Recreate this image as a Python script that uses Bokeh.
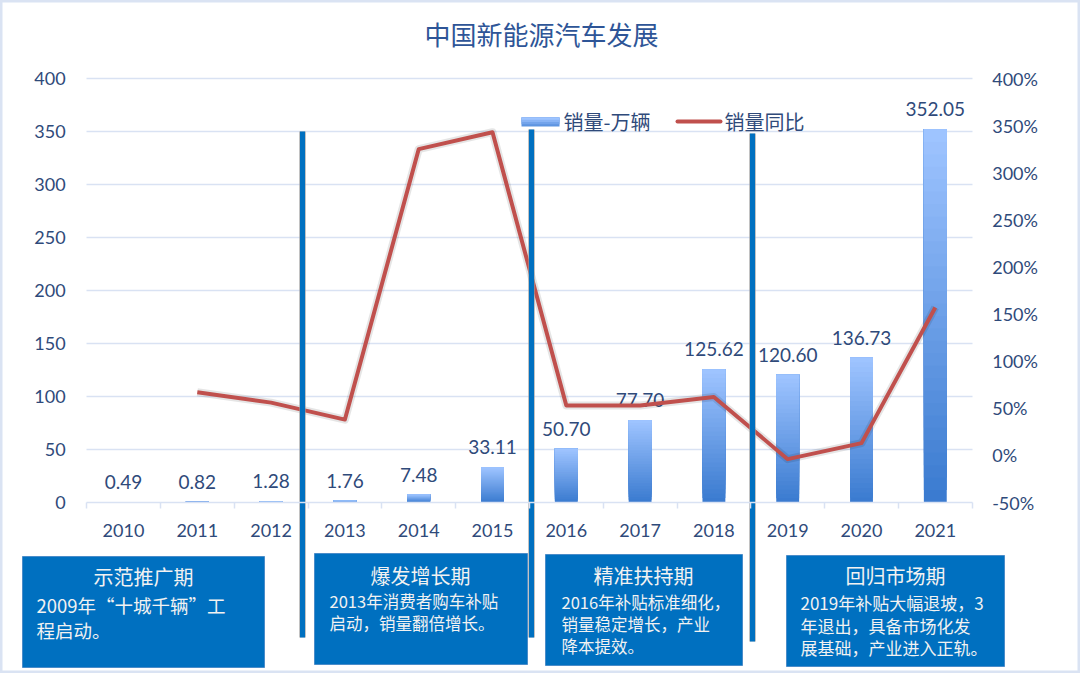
import numpy as np
from bokeh.plotting import figure
from bokeh.models import Range1d, LinearAxis, FixedTicker, PrintfTickFormatter, Grid
from bokeh.core.properties import value
from bokeh.embed import file_html
from bokeh.resources import INLINE

# ---------------- data ----------------
years = ["2010", "2011", "2012", "2013", "2014", "2015",
         "2016", "2017", "2018", "2019", "2020", "2021"]
sales = [0.49, 0.82, 1.28, 1.76, 7.48, 33.11, 50.70, 77.70, 125.62, 120.60, 136.73, 352.05]
yoy = [np.nan, 67, 56, 38, 325, 343, 53, 53, 62, -4, 13, 157]
sales_ticks = [0, 50, 100, 150, 200, 250, 300, 350, 400]
yoy_ticks = [-50, 0, 50, 100, 150, 200, 250, 300, 350, 400]
chart_title = "中国新能源汽车发展"
legend_labels = ["销量-万辆", "销量同比"]
phase_titles = ["示范推广期", "爆发增长期", "精准扶持期", "回归市场期"]
phase_texts = [
    ["2009年“十城千辆”工", "程启动。"],
    ["2013年消费者购车补贴", "启动，销量翻倍增长。"],
    ["2016年补贴标准细化，", "销量稳定增长，产业", "降本提效。"],
    ["2019年补贴大幅退坡，3", "年退出，具备市场化发", "展基础，产业进入正轨。"],
]

# ---------------- layout (reference pixel geometry) ----------------
W, H = 1080, 673
OFF = 0
X0, DX = 123.0, 73.8         # px of first category centre, px per category
Y0, SY = 502.0, 1.06         # px of value 0, px per unit (left axis)
PSY = 424.0 / 450.0          # px per percent (right axis)

def xd(px):
    return (px - X0) / DX

def yd(py):
    return (Y0 - py) / SY

def pdv(py):
    return -50 + (Y0 - py) / PSY

TXT = "#2f4a7a"
GRID = "#d9e2f3"
NUM_FONT = "Lato"
CJK = "Noto Sans CJK SC"

p = figure(width=W, height=H,
           x_range=Range1d(xd(OFF), xd(OFF + W)),
           y_range=Range1d(yd(OFF + H), yd(OFF)),
           x_axis_type=None, y_axis_type=None,
           toolbar_location=None, output_backend="svg",
           min_border=0, outline_line_color="#dae3f3", outline_line_width=4,
           background_fill_color="white", border_fill_color="white")
p.extra_y_ranges = {"pct": Range1d(pdv(OFF + H), pdv(OFF))}

n = len(years)
idx = list(range(n))

# grid lines
p.add_layout(Grid(dimension=1, ticker=FixedTicker(ticks=sales_ticks[1:]),
                  cross_bounds=(-0.5, n - 0.5),
                  grid_line_color=GRID, grid_line_width=1.5))

# axes
yl = LinearAxis(ticker=FixedTicker(ticks=sales_ticks), fixed_location=-0.5,
                axis_line_color=None, major_tick_line_color=None,
                minor_tick_line_color=None, major_tick_out=0, major_tick_in=0,
                major_label_standoff=21,
                major_label_text_font=NUM_FONT, major_label_text_font_size="18px",
                major_label_text_color=TXT)
p.add_layout(yl, "left")

yr = LinearAxis(y_range_name="pct", ticker=FixedTicker(ticks=yoy_ticks),
                formatter=PrintfTickFormatter(format="%d%%"),
                fixed_location=n - 0.5,
                axis_line_color=None, major_tick_line_color=None,
                minor_tick_line_color=None, major_tick_out=0, major_tick_in=0,
                major_label_standoff=20,
                major_label_text_font=NUM_FONT, major_label_text_font_size="18px",
                major_label_text_color=TXT)
p.add_layout(yr, "right")

xa_ticks = LinearAxis(ticker=FixedTicker(ticks=[i - 0.5 for i in range(n + 1)]),
                      fixed_location=0, bounds=(-0.5, n - 0.5),
                      axis_line_color=GRID, axis_line_width=1.5,
                      major_tick_line_color=GRID, major_tick_line_width=1.5,
                      major_tick_out=6, major_tick_in=0,
                      minor_tick_line_color=None,
                      major_label_text_color=None, major_label_text_font_size="1px")
p.add_layout(xa_ticks, "below")

xa_labels = LinearAxis(ticker=FixedTicker(ticks=idx),
                       major_label_overrides={i: years[i] for i in idx},
                       fixed_location=0,
                       axis_line_color=None, major_tick_line_color=None,
                       minor_tick_line_color=None, major_tick_out=0, major_tick_in=0,
                       major_label_standoff=21,
                       major_label_text_font=NUM_FONT, major_label_text_font_size="18px",
                       major_label_text_color=TXT)
p.add_layout(xa_labels, "below")

# gradient bars (dark at bottom, light at top)
bot_rgb = np.array([59, 123, 208])
top_rgb = np.array([158, 196, 255])
N = 30
bx, bb, bt, bc = [], [], [], []
for k in range(N):
    t = k / (N - 1)
    c = (bot_rgb + (top_rgb - bot_rgb) * t).round().astype(int)
    col = "#%02x%02x%02x" % tuple(c)
    for i in idx:
        bx.append(i)
        bb.append(sales[i] * k / N)
        bt.append(sales[i])
        bc.append(col)
p.vbar(x=bx, bottom=bb, top=bt, width=0.31, fill_color=bc, line_color=None)

# bar value labels
p.text(x=idx, y=sales, text=["%.2f" % v for v in sales], y_offset=-20,
       text_align="center", text_baseline="middle",
       text_font=value(NUM_FONT), text_font_size="19px", text_color=TXT)

# YoY line
p.line(x=idx, y=yoy, y_range_name="pct", line_color="#000000", line_alpha=0.10,
       line_width=8, line_join="round")
p.line(x=idx, y=yoy, y_range_name="pct", line_color="#c0504d",
       line_width=4, line_join="round")

# legend (manual)
LS = 4
for k in range(LS):
    t = k / (LS - 1)
    c = (bot_rgb + (top_rgb - bot_rgb) * (0.35 + 0.65 * t)).round().astype(int)
    p.quad(left=xd(521), right=xd(559), bottom=yd(126 - 9 * k / LS), top=yd(117),
           fill_color="#%02x%02x%02x" % tuple(c), line_color=None)
p.segment(x0=xd(677), y0=yd(121), x1=xd(720), y1=yd(121),
          line_color="#c0504d", line_width=4, line_cap="round")
p.text(x=[xd(563), xd(724)], y=[yd(121), yd(121)], text=legend_labels,
       text_align="left", text_baseline="middle",
       text_font=value(CJK), text_font_size="20px", text_color=TXT)

# title
p.text(x=[xd(541)], y=[yd(33)], text=[chart_title],
       text_align="center", text_baseline="middle",
       text_font=value(CJK), text_font_size="26px", text_color="#2e5597")

# phase divider lines
div_x = [302, 531, 752]
div_top = [131, 129, 133]
div_bot = [637, 637, 641]
p.segment(x0=[xd(v) for v in div_x], y0=[yd(v) for v in div_top],
          x1=[xd(v) for v in div_x], y1=[yd(v) for v in div_bot],
          line_color="#9a9a9a", line_alpha=0.6, line_width=7)
p.segment(x0=[xd(v) for v in div_x], y0=[yd(v) for v in div_top],
          x1=[xd(v) for v in div_x], y1=[yd(v) for v in div_bot],
          line_color="#0070c0", line_width=5)

# phase boxes
box_l = [22, 314, 545, 786]
box_r = [264, 527, 742, 1004]
box_t = [556, 553, 554, 555]
box_b = [667, 664, 665, 666]
p.quad(left=[xd(v) for v in box_l], right=[xd(v) for v in box_r],
       top=[yd(v) for v in box_t], bottom=[yd(v) for v in box_b],
       fill_color="#0070c0", line_color="#4a8cc9", line_width=1)

title_cx = [143, 420, 643, 895]
title_cy = [576, 575, 575, 575]
body_x = [36, 329, 561, 800]
body_y = [[604, 629], [600, 622], [601, 623, 645], [602, 625, 647]]
body_fs = ["18.5px", "16.5px", "16.5px", "17px"]
p.text(x=[xd(v) for v in title_cx], y=[yd(v) for v in title_cy], text=phase_titles,
       text_align="center", text_baseline="middle",
       text_font=value(CJK), text_font_size="20px", text_color="#f2f2f2")
for j in range(4):
    p.text(x=[xd(body_x[j])] * len(phase_texts[j]),
           y=[yd(v) for v in body_y[j]], text=phase_texts[j],
           text_align="left", text_baseline="middle",
           text_font=value(CJK), text_font_size=body_fs[j], text_color="#f2f2f2")

open("out.html", "w").write(file_html(p, INLINE))
